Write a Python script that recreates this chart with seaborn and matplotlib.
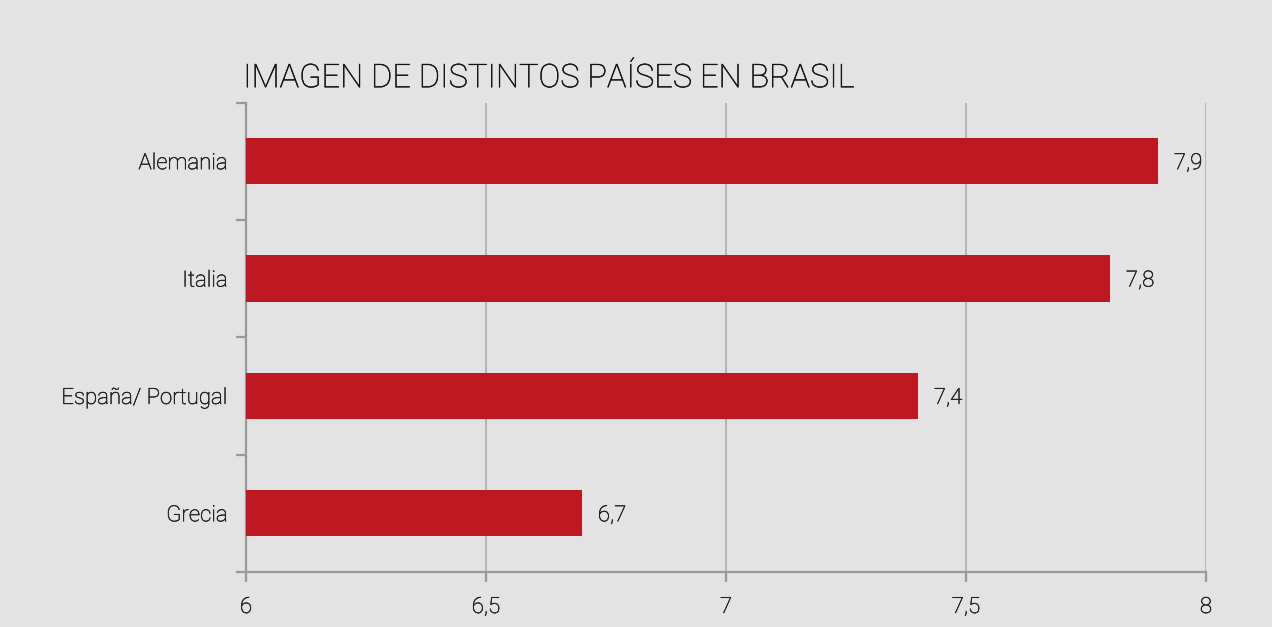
import matplotlib
matplotlib.use("Agg")
import matplotlib.pyplot as plt
import matplotlib.patheffects as pe
import pandas as pd
import seaborn as sns
from matplotlib.ticker import FixedLocator

countries = ["Alemania", "Italia", "España/ Portugal", "Grecia"]
scores = [7.9, 7.8, 7.4, 6.7]
x_ticks = [6, 6.5, 7, 7.5, 8]
x_tick_labels = ["6", "6,5", "7", "7,5", "8"]

BG = "#e3e3e3"
RED = "#be1823"
GRID = "#ababab"
SPINE = "#999999"
TEXT = "#1e1e1e"

# light Roboto with a hairline stroke, closer to the reference rendering
thicken = [pe.withStroke(linewidth=0.35, foreground=TEXT)]


def main() -> None:
    sns.set_theme(style="white")
    plt.rcParams["font.family"] = ["Roboto", "DejaVu Sans"]

    df = pd.DataFrame({"country": countries, "score": scores})

    fig = plt.figure(figsize=(12.72, 6.27), dpi=100, facecolor=BG)
    ax = fig.add_axes([246 / 1272, 1 - 572 / 627, 960 / 1272, 469.5 / 627])
    ax.set_facecolor(BG)

    sns.barplot(data=df, x="score", y="country", orient="h", color=RED,
                width=0.395, saturation=1, linewidth=0, ax=ax, zorder=3)

    ax.set_xlim(6, 8)
    ax.set_ylim(3.5, -0.5)
    ax.set_xticks(x_ticks)
    ax.set_xticklabels(x_tick_labels)
    ax.xaxis.grid(True, color=GRID, linewidth=1.2, zorder=0)
    ax.yaxis.grid(False)

    ax.yaxis.set_minor_locator(FixedLocator([-0.5, 0.5, 1.5, 2.5, 3.5]))
    ax.tick_params(axis="y", which="major", length=0, pad=13,
                   labelsize=16, labelcolor=TEXT)
    ax.tick_params(axis="y", which="minor", length=7.5, width=1.6, color=SPINE, left=True)
    ax.tick_params(axis="x", which="major", length=7, width=1.6, color=SPINE,
                   bottom=True, pad=11, labelsize=16, labelcolor=TEXT)
    for lbl in ax.get_xticklabels() + ax.get_yticklabels():
        lbl.set_fontweight("light")
        lbl.set_path_effects(thicken)

    for side in ["top", "right"]:
        ax.spines[side].set_visible(False)
    for side in ["left", "bottom"]:
        ax.spines[side].set_color(SPINE)
        ax.spines[side].set_linewidth(1.6)

    for i, v in enumerate(scores):
        ax.text(v + 0.033, i, f"{v:.1f}".replace(".", ","), va="center_baseline",
                ha="left", fontsize=16, fontweight="light", color=TEXT,
                path_effects=thicken)

    ax.set_xlabel("")
    ax.set_ylabel("")
    ax.set_title("IMAGEN DE DISTINTOS PAÍSES EN BRASIL", loc="left", x=-0.003,
                 fontsize=23.5, fontweight="light", color="#111111", pad=11,
                 path_effects=[pe.withStroke(linewidth=0.3, foreground="#111111")])

    fig.savefig("out.png", dpi=100, facecolor=BG)
    plt.close(fig)


if __name__ == "__main__":
    main()
